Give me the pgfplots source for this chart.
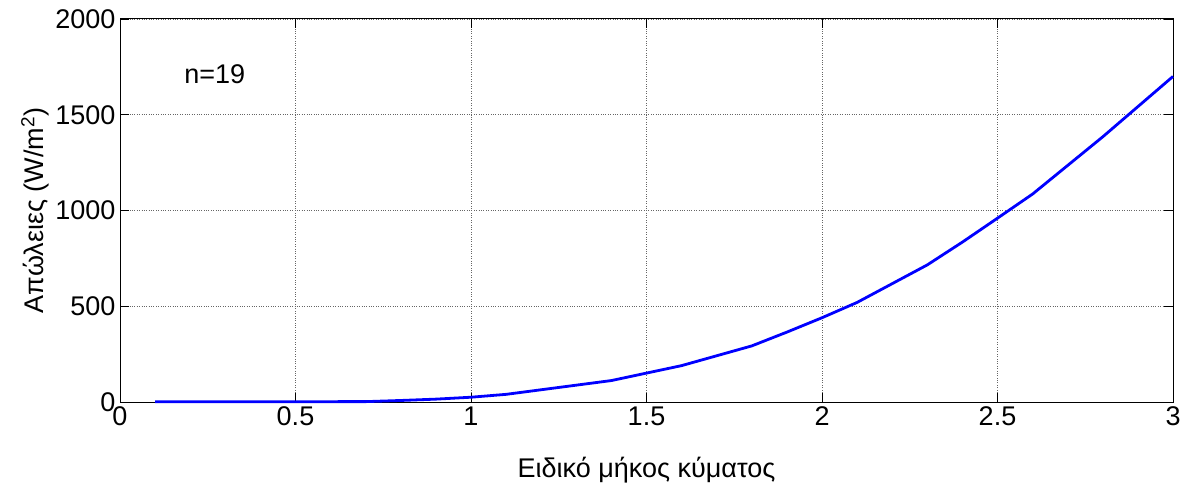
\documentclass[border=0pt]{standalone}
\usepackage{fontspec}
\setmainfont{Liberation Sans}
\usepackage{pgfplots}
\pgfplotsset{compat=1.18}
\begin{document}
\begin{tikzpicture}
\begin{axis}[
  scale only axis,
  width=1053bp, height=383bp,
  xmin=0, xmax=3, ymin=0, ymax=2000,
  xtick={0,0.5,...,3}, ytick={0,500,...,2000},
  xticklabels={0,0.5,1,1.5,2,2.5,3},
  scaled ticks=false,
  /pgf/number format/assume math mode=true,
  /pgf/number format/1000 sep={},
  tick align=inside,
  major tick length=9bp,
  tick style={black, line width=0.8bp},
  axis line style={black, line width=1bp},
  grid=major,
  major grid style={black!60, dotted, line width=0.6bp},
  every tick label/.append style={font=\fontsize{27bp}{31bp}\selectfont},
  xticklabel style={yshift=-1bp},
  yticklabel style={xshift=-1bp},
  label style={font=\fontsize{27bp}{31bp}\selectfont},
  xlabel={Ειδικό μήκος κύματος},
  ylabel={Απώλειες (W/m\textsuperscript{2})},
  xlabel style={at={(0.5,0)}, anchor=center, yshift=-68bp},
  ylabel style={at={(0,0.5)}, anchor=center, yshift=85bp},
  clip=false,
]
\addplot[blue, line width=2.8bp] coordinates {
(0.1,1) (0.7,2) (0.8,8) (0.9,15) (1.0,25) (1.1,40) (1.4,112) (1.6,190)
(1.8,293) (1.9,365) (2.0,440) (2.1,520) (2.3,716) (2.4,835) (2.5,960)
(2.6,1086) (2.8,1385) (3.0,1700)
};
\node[font=\fontsize{27bp}{31bp}\selectfont] at (axis cs:0.27,1710) {n=19};
\end{axis}
\path ([xshift=-120bp,yshift=-95bp]current axis.south west) rectangle ([xshift=14bp,yshift=19bp]current axis.north east);
\end{tikzpicture}
\end{document}
